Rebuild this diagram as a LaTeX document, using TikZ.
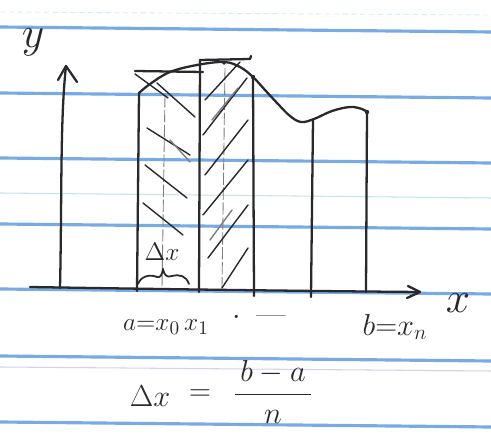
\documentclass[tikz,border=0pt]{standalone}
\usetikzlibrary{arrows.meta}
\definecolor{inkc}{RGB}{40,40,45}
\definecolor{rulec}{RGB}{120,170,228}
\definecolor{faintcyan}{RGB}{195,228,242}
\definecolor{faintpink}{RGB}{218,205,238}
\definecolor{pencil}{RGB}{125,125,130}
\tikzset{
  ink/.style={draw=inkc, line width=1.3pt, line cap=round, line join=round},
  hatch/.style={draw=inkc, line width=0.8pt, line cap=round},
  midline/.style={draw=pencil, line width=0.5pt, dash pattern=on 7pt off 1.5pt},
  ruling/.style={draw=rulec, line width=1.8pt},
  lbl/.style={text=inkc, inner sep=0pt},
}
\begin{document}
\begin{tikzpicture}[x=0.02cm, y=-0.02cm]
\fill[white] (0,0) rectangle (491,435);
\useasboundingbox (0,0) rectangle (491,435);
% paper rulings
\foreach \yy in {27,93,158,224,289,356,422} {\draw[ruling] (0,\yy) -- (491,\yy+5);}
\draw[faintcyan, line width=0.6pt] (0,193) -- (491,198);
\draw[faintpink, line width=0.6pt] (0,367) -- (491,371);
\draw[faintcyan!70, line width=0.5pt, dash pattern=on 3pt off 2pt] (0,12) -- (491,15);
% axes
\coordinate (xstart) at (30,287);
\coordinate (xend) at (420,292);
\coordinate (ybot) at (60,288);
\coordinate (ytop) at (66,66);
\draw[ink] (xstart) .. controls (150,289) and (300,291) .. (xend);
\draw[ink] (408,286) -- (xend) -- (407,298);
\draw[ink] (ybot) .. controls (62,200) and (60,120) .. (ytop);
\draw[ink] (58,80) -- (ytop) -- (77,82);
\node[lbl, font=\fontsize{30}{34}\selectfont] (ylab) at (33,42) {$y$};
\node[lbl, font=\fontsize{30}{34}\selectfont] (xlab) at (458,303) {$x$};
% partition lines
\coordinate (p0) at (139,93);
\coordinate (p1) at (200,60);
\coordinate (p2) at (253,77);
\coordinate (p3) at (313,120);
\coordinate (pn) at (367,112);
\draw[ink] (137,291) -- (p0);
\draw[ink] (199,292) -- (p1);
\draw[ink] (254,296) -- (p2);
\draw[ink] (311,297) -- (p3);
\draw[ink] (366,292) -- (pn);
% rectangle tops
\draw[ink] (135,71) -- (203,72);
\draw[ink] (p1) -- (250,59) -- (251,56);
% curve
\draw[ink] plot[smooth, tension=0.6] coordinates {(p0) (150,84) (170,72) (197,65) (224,62) (240,67) (p2) (265,90) (278,104) (290,116) (301,122) (314,119) (332,111) (350,107) (362,109) (pn)};
\fill[inkc] (p2) circle (2.2);
\fill[inkc] (pn) circle (2.2);
\fill[inkc] (224,63) circle (1.8);
% midpoints
\draw[midline] (165,95) -- (162,288);
\draw[midline] (225,68) -- (222,288);
% hatching rect 1
\draw[hatch] (135,74) -- (168,98);
\draw[hatch] (157,83) -- (195,117);
\draw[hatch] (147,128) -- (190,155);
\draw[hatch] (145,165) -- (187,198);
\draw[hatch] (143,203) -- (183,235);
\draw[hatch, draw=pencil] (170,140) -- (190,162);
% hatching rect 2
\draw[hatch] (205,100) -- (240,62);
\draw[hatch] (203,135) -- (247,78);
\draw[hatch] (205,175) -- (248,120);
\draw[hatch] (203,215) -- (248,160);
\draw[hatch] (208,258) -- (248,205);
\draw[hatch] (222,288) -- (248,248);
\draw[hatch, draw=pencil] (212,120) -- (238,88);
\draw[hatch, draw=pencil] (210,240) -- (232,210);
% delta x brace and label
\node[lbl, font=\fontsize{14}{16}\selectfont] (dxin) at (162,252) {$\Delta x$};
\draw[ink, line width=1pt] (138,284) .. controls (141,276) and (150,274) .. (157,277) .. controls (161,278) and (162,274) .. (163,269);
\draw[ink, line width=1pt] (163,269) .. controls (164,275) and (167,278) .. (172,276) .. controls (180,274) and (186,276) .. (189,284);
% axis labels
\node[lbl, font=\fontsize{15}{18}\selectfont] (alab) at (166,327) {$a{=}x_0\,x_1$};
\node[lbl, font=\fontsize{18}{20}\selectfont, anchor=base] (dots) at (259,325) {$\cdot$\enspace\textemdash};
\node[lbl, font=\fontsize{17}{20}\selectfont] (blab) at (395,327) {$b{=}x_n$};
% formula
\node[lbl, font=\fontsize{17}{20}\selectfont] (fdx) at (150,396) {$\Delta x$};
\node[lbl, font=\fontsize{17}{20}\selectfont] (feq) at (200,395) {$=$};
\node[lbl, font=\fontsize{17}{20}\selectfont] (ffrac) at (273,392) {$\displaystyle\frac{\,b-a\,}{n}$};
\end{tikzpicture}
\end{document}
